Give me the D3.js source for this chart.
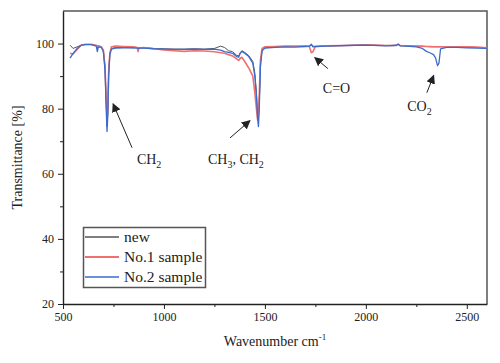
<!DOCTYPE html>
<html>
<head>
<meta charset="utf-8">
<script src="https://cdn.jsdelivr.net/npm/d3@7"></script>
<style>
  body { margin: 0; background: #fff; }
  svg { font-family: "Liberation Serif", "Times New Roman", serif; }
  .axis path, .axis line { stroke: #222; }
  .axis text { font-family: "Liberation Serif", serif; font-size: 12px; fill: #222; }
</style>
</head>
<body>
<script>
(function() {
    // wavenumber (cm-1)
    var wavenumbers = [535, 550, 570, 590, 610, 640, 665, 670, 675, 690, 700, 708, 714, 718, 722, 726, 732, 740, 760, 800,
        850, 868, 872, 876, 900, 950, 1000, 1050, 1100, 1150, 1200, 1250, 1280, 1300, 1320, 1340, 1360, 1370, 1378, 1386,
        1400, 1420, 1440, 1450, 1458, 1464, 1468, 1472, 1478, 1486, 1500, 1550, 1600, 1650, 1700, 1720, 1730, 1738, 1750, 1800,
        1900, 2000, 2100, 2150, 2160, 2170, 2200, 2250, 2280, 2300, 2320, 2335, 2345, 2355, 2362, 2370, 2400, 2450, 2500, 2550, 2600];

    // transmittance (%)
    var newT = [99.5, 98.5, 99, 99.5, 99.7, 99.7, 99.3, 98.5, 99.1, 98.9, 97.8, 93, 82, 74.5, 79, 91, 97, 98.5, 98.8, 98.8,
        98.7, 98.7, 98.5, 98.7, 98.7, 98.5, 98.4, 98.3, 98.3, 98.4, 98.3, 98.5, 99.2, 98.8, 97.8, 97.5, 96.4, 96.2, 97.2, 97.8,
        97.3, 96.3, 94.5, 91, 85, 78, 77, 82, 94, 98, 98.7, 98.9, 99.1, 99.1, 99.2, 99.2, 99.5, 99.2, 99.1, 99.3,
        99.4, 99.6, 99.4, 99.5, 99.8, 99.4, 99.3, 99.2, 99.1, 99.1, 99, 99, 99, 99, 99, 99, 99, 98.9, 98.9, 98.8, 98.6];
    var no1T = [97, 96.8, 98.2, 99.5, 99.8, 99.8, 99.5, 99.3, 99.3, 99, 98, 93, 83, 76.5, 80, 91, 97, 99, 99.2, 99.1,
        99, 98.8, 97.5, 98.6, 98.8, 98.4, 98, 97.8, 97.6, 97.8, 97.7, 97.5, 97.2, 97, 96.6, 96.2, 95.3, 94.8, 95.5, 95.8,
        94.5, 92.5, 90, 85, 80, 76.5, 78, 84, 95, 98.5, 99, 99.1, 99.2, 99.2, 99.2, 99.1, 97.2, 97.5, 99.1, 99.3,
        99.4, 99.6, 99.4, 99.5, 99.8, 99.4, 99.3, 99.2, 99.2, 99.1, 99.1, 99, 99, 99, 99, 99, 99, 99, 99, 98.9, 98.7];
    var no2T = [95.5, 97, 98.5, 99.5, 99.7, 99.7, 99.2, 97.5, 99, 98.8, 97.5, 92, 80, 73, 78, 90, 96.5, 98.3, 98.6, 98.7,
        98.7, 98.6, 98.5, 98.6, 98.6, 98.4, 98.3, 98.2, 98.2, 98.3, 98.2, 98.3, 98, 97.5, 97.3, 97, 96, 95.8, 97, 97.6,
        97, 96, 94, 90, 84, 77, 74.5, 80, 93, 97.8, 98.6, 98.8, 99, 98.9, 99.1, 99.2, 99.8, 99, 99.1, 99.2,
        99.4, 99.5, 99.3, 99.4, 99.8, 99.3, 99.2, 99, 98.5, 97.6, 97.1, 96.6, 95.6, 93.2, 94, 98.4, 98.8, 98.8, 98.7, 98.6, 98.5];

    var seriesNames = ["new", "No.1 sample", "No.2 sample"];
    var seriesColors = ["#555555", "#f07070", "#3a6ccf"];
    var seriesWidths = [1, 1.6, 1.3];
    var seriesValues = [newT, no1T, no2T];

    var xTicks = [500, 1000, 1500, 2000, 2500];
    var xMinor = [750, 1250, 1750, 2250];
    var yTicks = [20, 40, 60, 80, 100];
    var yMinor = [30, 50, 70, 90];

    // annotations: label position and arrow tail/head in data units
    var notes = [
        { main: "CH", sub: "2", rest: "", x: 866, y: 63.1, x1: 842, y1: 68, x2: 748, y2: 81.5 },
        { main: "CH", sub: "3", rest: ",  CH", sub2: "2", x: 1218, y: 63.1, x1: 1327, y1: 71, x2: 1426, y2: 76.3 },
        { main: "C=O", sub: "", rest: "", x: 1787, y: 84.9, x1: 1812, y1: 92.3, x2: 1747, y2: 95.7 },
        { main: "CO", sub: "2", rest: "", x: 2205, y: 79.4, x1: 2302, y1: 84.9, x2: 2336, y2: 90.2 }
    ];

    var width = 500, height = 363;
    var margin = { top: 11, right: 13, bottom: 59, left: 63 };

    var svg = d3.select("body").append("svg")
        .attr("width", width)
        .attr("height", height);

    var x = d3.scaleLinear().domain([500, 2600]).range([margin.left, width - margin.right]);
    var y = d3.scaleLinear().domain([20, 110]).range([height - margin.bottom, margin.top]);

    // frame (top and right)
    svg.append("path")
        .attr("d", "M" + x(500) + "," + y(110) + "H" + x(2600) + "V" + y(20))
        .attr("fill", "none")
        .attr("stroke", "#555")
        .attr("stroke-width", 1.5);

    // axes
    svg.append("g")
        .attr("class", "axis")
        .attr("transform", "translate(0," + y(20) + ")")
        .call(d3.axisBottom(x).tickValues(xTicks).tickFormat(d3.format("d")).tickSize(5).tickPadding(3).tickSizeOuter(0));
    svg.append("g")
        .attr("class", "axis")
        .attr("transform", "translate(0," + y(20) + ")")
        .call(d3.axisBottom(x).tickValues(xMinor).tickSize(3).tickFormat("").tickSizeOuter(0))
        .select(".domain").remove();

    svg.append("g")
        .attr("class", "axis")
        .attr("transform", "translate(" + x(500) + ",0)")
        .call(d3.axisLeft(y).tickValues(yTicks).tickFormat(d3.format("d")).tickSize(5).tickPadding(4).tickSizeOuter(0));
    svg.append("g")
        .attr("class", "axis")
        .attr("transform", "translate(" + x(500) + ",0)")
        .call(d3.axisLeft(y).tickValues(yMinor).tickSize(3).tickFormat("").tickSizeOuter(0))
        .select(".domain").remove();

    svg.selectAll(".axis .domain").attr("stroke-width", 1.4);

    // axis titles
    var xt = svg.append("text")
        .attr("x", 275)
        .attr("y", 346)
        .attr("text-anchor", "middle")
        .attr("font-size", 14)
        .attr("fill", "#222");
    xt.append("tspan").text("Wavenumber cm");
    xt.append("tspan").attr("dy", -6).attr("font-size", 9).text("-1");

    svg.append("text")
        .attr("transform", "translate(22," + y(65) + ") rotate(-90)")
        .attr("text-anchor", "middle")
        .attr("font-size", 14)
        .attr("fill", "#222")
        .text("Transmittance [%]");

    // spectra
    var line = d3.line()
        .x(function(d, i) { return x(wavenumbers[i]); })
        .y(function(d) { return y(d); });

    svg.selectAll(".spectrum")
        .data(seriesValues)
        .enter()
            .append("path")
            .classed("spectrum", true)
            .attr("d", line)
            .attr("fill", "none")
            .attr("stroke", function(d, i) { return seriesColors[i]; })
            .attr("stroke-width", function(d, i) { return seriesWidths[i]; })
            .attr("stroke-linejoin", "round");

    // arrows
    svg.append("defs").append("marker")
        .attr("id", "head")
        .attr("viewBox", "0 0 10 10")
        .attr("refX", 9)
        .attr("refY", 5)
        .attr("markerWidth", 9)
        .attr("markerHeight", 9)
        .attr("markerUnits", "userSpaceOnUse")
        .attr("orient", "auto")
        .append("path")
            .attr("d", "M0,0L10,5L0,10z")
            .attr("fill", "#222");

    svg.selectAll(".arrow")
        .data(notes)
        .enter()
            .append("line")
            .classed("arrow", true)
            .attr("x1", function(d) { return x(d.x1); })
            .attr("y1", function(d) { return y(d.y1); })
            .attr("x2", function(d) { return x(d.x2); })
            .attr("y2", function(d) { return y(d.y2); })
            .attr("stroke", "#222")
            .attr("stroke-width", 1)
            .attr("marker-end", "url(#head)");

    var labels = svg.selectAll(".note")
        .data(notes)
        .enter()
            .append("text")
            .classed("note", true)
            .attr("x", function(d) { return x(d.x); })
            .attr("y", function(d) { return y(d.y); })
            .attr("font-size", 14)
            .attr("fill", "#222");
    labels.append("tspan").text(function(d) { return d.main; });
    labels.append("tspan").attr("dy", 4).attr("font-size", 10).text(function(d) { return d.sub; });
    labels.append("tspan").attr("dy", function(d) { return d.sub ? -4 : 0; }).text(function(d) { return d.rest; });
    labels.filter(function(d) { return d.sub2; })
        .append("tspan").attr("dy", 4).attr("font-size", 10).text(function(d) { return d.sub2; });

    // legend
    var legend = svg.append("g");
    legend.append("rect")
        .attr("x", 83.5)
        .attr("y", 227.5)
        .attr("width", 122)
        .attr("height", 60)
        .attr("fill", "#fff")
        .attr("stroke", "#555")
        .attr("stroke-width", 1.5);

    var item = legend.selectAll(".item")
        .data(seriesNames)
        .enter()
            .append("g")
            .classed("item", true)
            .attr("transform", function(d, i) { return "translate(0," + (237 + i * 20) + ")"; });
    item.append("line")
        .attr("x1", 85)
        .attr("x2", 119)
        .attr("stroke", function(d, i) { return seriesColors[i]; })
        .attr("stroke-width", function(d, i) { return seriesWidths[i] + 0.3; });
    item.append("text")
        .attr("x", 124)
        .attr("y", 5)
        .attr("font-size", 15.5)
        .attr("fill", "#222")
        .text(function(d) { return d; });
})();
</script>
</body>
</html>
